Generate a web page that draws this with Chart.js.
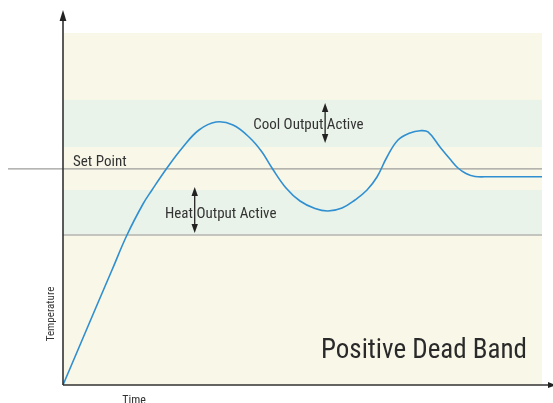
<!DOCTYPE html>
<html>
<head>
<meta charset="utf-8">
<script src="https://cdn.jsdelivr.net/npm/chart.js@4"></script>
<style>
  body { margin: 0; background: #fff; }
  canvas { display: block; }
</style>
</head>
<body>
<canvas id="deadBandChart" width="553" height="403"></canvas>
<script>
// process response over time (arbitrary units 0..100 on both axes)
const timeVals = [0, 3.55, 7.10, 10.23, 13.36, 16.70, 18.58, 21.71, 25.05, 28.39, 31.94, 35.49, 39.04,
                  41.54, 43.63, 46.56, 49.48, 52.61, 55.32, 58.25, 60.96, 63.47, 65.55, 67.64, 69.94,
                  72.44, 74.53, 76.20, 78.71, 80.79, 82.46, 84.13, 86.01, 89.14, 100];
const tempVals = [0, 11.36, 22.73, 32.67, 42.61, 51.42, 55.40, 61.65, 67.61, 72.44, 74.72, 73.86, 70.17,
                  66.19, 61.65, 55.97, 52.27, 50.14, 49.43, 50.28, 52.56, 55.40, 59.09, 64.77, 69.60,
                  71.59, 72.24, 71.88, 67.61, 64.20, 61.65, 60.09, 59.23, 59.18, 59.18];

const setPoint = 61.4;
const coolBand = [67.6, 81.0];
const heatBand = [42.6, 55.4];

const FONT = '"Liberation Sans Narrow", "Arial Narrow", "Roboto Condensed", sans-serif';

function arrowHead(ctx, x, y, dir, len, half) {
    // dir: 'up' | 'down' | 'right'
    ctx.beginPath();
    if (dir === 'up') { ctx.moveTo(x, y); ctx.lineTo(x - half, y + len); ctx.lineTo(x + half, y + len); }
    if (dir === 'down') { ctx.moveTo(x, y); ctx.lineTo(x - half, y - len); ctx.lineTo(x + half, y - len); }
    if (dir === 'right') { ctx.moveTo(x, y); ctx.lineTo(x - len, y - half); ctx.lineTo(x - len, y + half); }
    ctx.closePath();
    ctx.fill();
}

function doubleArrow(ctx, x, y1, y2) {
    ctx.strokeStyle = '#222';
    ctx.fillStyle = '#222';
    ctx.lineWidth = 1.3;
    ctx.beginPath();
    ctx.moveTo(x, y1 + 4);
    ctx.lineTo(x, y2 - 4);
    ctx.stroke();
    arrowHead(ctx, x, y1, 'up', 9, 3.2);
    arrowHead(ctx, x, y2, 'down', 9, 3.2);
}

// label with a double arrow standing in the gap after `before`
function bandLabel(ctx, left, baseline, before, after, y1, y2) {
    ctx.font = '15px ' + FONT;
    ctx.fillStyle = '#333';
    ctx.textBaseline = 'alphabetic';
    ctx.textAlign = 'left';
    const text = before + ' ' + after;
    ctx.fillText(text, left, baseline);
    const gap = ctx.measureText(before).width + ctx.measureText(' ').width / 2;
    doubleArrow(ctx, left + gap, y1, y2);
}

const backdrop = {
    id: 'backdrop',
    beforeDatasetsDraw(chart) {
        const { ctx, chartArea: a, scales: { x, y } } = chart;
        ctx.save();
        ctx.fillStyle = '#f9f7e8';
        ctx.fillRect(a.left, a.top, a.right - a.left, a.bottom - a.top);

        ctx.fillStyle = '#eaf3ea';
        [coolBand, heatBand].forEach(b => {
            const top = y.getPixelForValue(b[1]);
            const bot = y.getPixelForValue(b[0]);
            ctx.fillRect(a.left, top, a.right - a.left, bot - top);
        });

        // lower edge of the heat band
        ctx.strokeStyle = '#b4b4b0';
        ctx.lineWidth = 1.6;
        ctx.beginPath();
        ctx.moveTo(a.left, y.getPixelForValue(heatBand[0]));
        ctx.lineTo(a.right, y.getPixelForValue(heatBand[0]));
        ctx.stroke();

        // set point line runs past the y axis
        const sp = y.getPixelForValue(setPoint);
        ctx.strokeStyle = '#9d9d9a';
        ctx.lineWidth = 1.3;
        ctx.beginPath();
        ctx.moveTo(8, sp);
        ctx.lineTo(a.right, sp);
        ctx.stroke();

        ctx.font = '15px ' + FONT;
        ctx.fillStyle = '#333';
        ctx.fillText('Set Point', x.getPixelForValue(2.1), sp - 3);
        ctx.restore();
    },
    afterDatasetsDraw(chart) {
        const { ctx, chartArea: a, scales: { x, y } } = chart;
        ctx.save();

        bandLabel(ctx, x.getPixelForValue(39.7), y.getPixelForValue(72.7), 'Cool Output', 'Active',
                  y.getPixelForValue(coolBand[1]) + 3, y.getPixelForValue(coolBand[0]) - 4);
        bandLabel(ctx, x.getPixelForValue(21.3), y.getPixelForValue(47.4), 'Heat', 'Output Active',
                  y.getPixelForValue(heatBand[1]) - 3, y.getPixelForValue(heatBand[0]) - 2);

        ctx.font = '27px ' + FONT;
        ctx.fillStyle = '#2a2a2a';
        ctx.fillText('Positive Dead Band', 321, 358);

        // axes
        ctx.strokeStyle = '#333';
        ctx.fillStyle = '#222';
        ctx.lineWidth = 1.6;
        ctx.beginPath();
        ctx.moveTo(a.left, a.bottom);
        ctx.lineTo(a.left, 18);
        ctx.moveTo(a.left, a.bottom);
        ctx.lineTo(chart.width - 2, a.bottom);
        ctx.stroke();
        arrowHead(ctx, a.left, 10, 'up', 11, 3.4);
        arrowHead(ctx, chart.width + 3, a.bottom, 'right', 8, 3);

        // axis titles
        ctx.fillStyle = '#333';
        ctx.font = '11px ' + FONT;
        ctx.textAlign = 'center';
        ctx.textBaseline = 'middle';
        ctx.save();
        ctx.translate(51.5, 314);
        ctx.rotate(-Math.PI / 2);
        ctx.fillText('Temperature', 0, 0);
        ctx.restore();
        ctx.font = '12px ' + FONT;
        ctx.textBaseline = 'alphabetic';
        ctx.fillText('Time', 134, 404);
        ctx.restore();
    }
};

new Chart(document.getElementById('deadBandChart'), {
    type: 'scatter',
    data: {
        datasets: [{
            data: timeVals.map((t, i) => ({ x: t, y: tempVals[i] })),
            showLine: true,
            borderColor: '#2f8fd0',
            borderWidth: 1.6,
            pointRadius: 0,
            tension: 0.4,
            clip: false
        }]
    },
    options: {
        responsive: false,
        animation: false,
        layout: { padding: { left: 63, right: 11, top: 33, bottom: 18 } },
        scales: {
            x: { type: 'linear', min: 0, max: 100, display: false },
            y: { type: 'linear', min: 0, max: 100, display: false }
        },
        plugins: {
            legend: { display: false },
            tooltip: { enabled: false }
        }
    },
    plugins: [backdrop]
});
</script>
</body>
</html>
